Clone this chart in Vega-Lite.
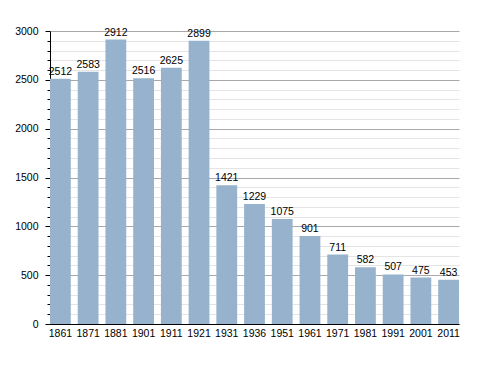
{
  "$schema": "https://vega.github.io/schema/vega-lite/v6.json",
  "autosize": "none",
  "padding": {"left": 50, "top": 31, "right": 29, "bottom": 49},
  "width": 409,
  "height": 293,
  "background": "white",
  "config": {"view": {"stroke": null}, "font": "Liberation Sans"},
  "data": {"values": [
    {"year": "1861", "pop": 2512},
    {"year": "1871", "pop": 2583},
    {"year": "1881", "pop": 2912},
    {"year": "1901", "pop": 2516},
    {"year": "1911", "pop": 2625},
    {"year": "1921", "pop": 2899},
    {"year": "1931", "pop": 1421},
    {"year": "1936", "pop": 1229},
    {"year": "1951", "pop": 1075},
    {"year": "1961", "pop": 901},
    {"year": "1971", "pop": 711},
    {"year": "1981", "pop": 582},
    {"year": "1991", "pop": 507},
    {"year": "2001", "pop": 475},
    {"year": "2011", "pop": 453}
  ]},
  "encoding": {
    "x": {"field": "year", "type": "ordinal", "sort": null,
      "scale": {"paddingInner": 0.25, "paddingOuter": 0},
      "axis": {"title": null, "labelAngle": 0, "ticks": false, "domainColor": "black", "labelFontSize": 10.5, "labelColor": "black", "labelPadding": 4}},
    "y": {"field": "pop", "type": "quantitative",
      "scale": {"domain": [0, 3000], "nice": false},
      "axis": {"title": null,
        "values": [0,100,200,300,400,500,600,700,800,900,1000,1100,1200,1300,1400,1500,1600,1700,1800,1900,2000,2100,2200,2300,2400,2500,2600,2700,2800,2900,3000],
        "labelExpr": "datum.value % 500 === 0 ? datum.label : ''",
        "format": "d",
        "grid": true,
        "gridColor": {"condition": {"test": "datum.value % 500 === 0", "value": "#a8a8a8"}, "value": "#e4e4e4"},
        "tickSize": {"condition": {"test": "datum.value % 500 === 0", "value": 5}, "value": 3},
        "tickColor": "black",
        "domainColor": "black",
        "labelFontSize": 10.5, "labelColor": "black", "labelPadding": 7}}
  },
  "layer": [
    {"mark": {"type": "bar", "color": "#97b2cd"}},
    {"mark": {"type": "text", "baseline": "bottom", "dy": -2, "fontSize": 10.5, "color": "black"},
     "encoding": {"text": {"field": "pop", "type": "quantitative", "format": "d"}}}
  ]
}
